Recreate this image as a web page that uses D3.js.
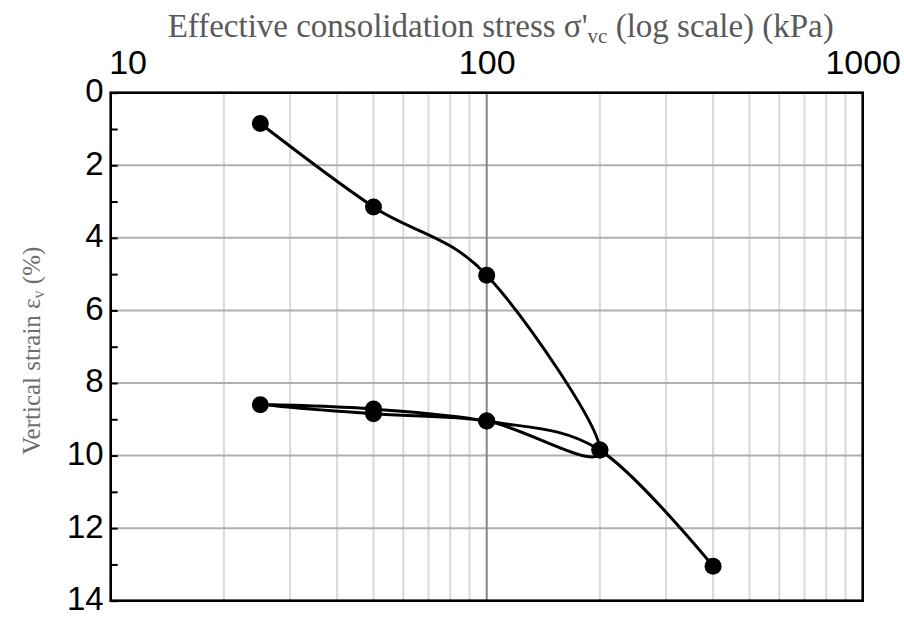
<!DOCTYPE html>
<html>
<head>
<meta charset="utf-8">
<script src="https://cdn.jsdelivr.net/npm/d3@7"></script>
<style>
  html, body { margin: 0; padding: 0; background: #fff; }
  svg { display: block; }
</style>
</head>
<body>
<svg id="chart" width="904" height="617"></svg>
<script>
// Oedometer test: loading, unloading and reloading path, in test order
const stress = [25, 50, 100, 200, 100, 50, 25, 50, 100, 200, 400];        // kPa
const strain = [0.85, 3.15, 5.03, 9.85, 9.05, 8.85, 8.6, 8.72, 9.05, 9.85, 13.05]; // %

const xTickValues = [10, 100, 1000];
const xTickLabels = ["10", "100", "1000"];
const yTickValues = [0, 2, 4, 6, 8, 10, 12, 14];

const svg = d3.select("#chart");
const W = 904, H = 617;
const margin = { left: 110.7, right: W - 862.7, top: 92.7, bottom: H - 600.7 };

const x = d3.scaleLog().domain([10, 1000]).range([margin.left, W - margin.right]);
const y = d3.scaleLinear().domain([0, 14]).range([margin.top, H - margin.bottom]);

const grid = svg.append("g");

// minor vertical grid (2..9 per decade)
const minorX = [];
for (let d = 10; d < 1000; d *= 10) {
  for (let k = 2; k <= 9; k++) minorX.push(d * k);
}
grid.selectAll("line.vminor").data(minorX).join("line")
  .attr("x1", d => x(d)).attr("x2", d => x(d))
  .attr("y1", y(0)).attr("y2", y(14))
  .attr("stroke", "#d9d9d9").attr("stroke-width", 2);

// horizontal major grid
grid.selectAll("line.hmajor").data(yTickValues.filter(v => v > 0 && v < 14)).join("line")
  .attr("x1", x(10)).attr("x2", x(1000))
  .attr("y1", d => y(d)).attr("y2", d => y(d))
  .attr("stroke", "#afafaf").attr("stroke-width", 2);

// major vertical grid at 100
grid.append("line")
  .attr("x1", x(100)).attr("x2", x(100))
  .attr("y1", y(0)).attr("y2", y(14))
  .attr("stroke", "#848484").attr("stroke-width", 2);

// frame
svg.append("rect")
  .attr("x", x(10)).attr("y", y(0))
  .attr("width", x(1000) - x(10)).attr("height", y(14) - y(0))
  .attr("fill", "none").attr("stroke", "#000").attr("stroke-width", 2.6);

// left axis: inward ticks at every unit, labels at even values
const yAxis = d3.axisLeft(y)
  .tickValues(d3.range(0, 15))
  .tickSizeInner(-7).tickSizeOuter(0)
  .tickFormat(d => (d % 2 === 0 ? d : ""));
const ya = svg.append("g").attr("transform", `translate(${x(10)},0)`).call(yAxis);
ya.select(".domain").remove();
ya.selectAll(".tick line").attr("stroke", "#000").attr("stroke-width", 2);
ya.selectAll(".tick text")
  .attr("x", -7)
  .attr("dy", "0.27em")
  .attr("font-family", "Liberation Sans, Arial, sans-serif")
  .attr("font-size", 33).attr("fill", "#000");

// top axis labels; the first one is kept clear of the left labels
const xAxis = d3.axisTop(x)
  .tickValues(xTickValues)
  .tickSize(0)
  .tickFormat((d, i) => xTickLabels[i]);
const xa = svg.append("g").attr("transform", `translate(0,${y(0) - 16})`).call(xAxis);
xa.select(".domain").remove();
xa.selectAll(".tick text")
  .attr("font-family", "Liberation Sans, Arial, sans-serif")
  .attr("font-size", 34).attr("fill", "#000")
  .attr("text-anchor", (d, i) => (i === 0 ? "start" : "middle"))
  .attr("dx", (d, i) => (i === 0 ? -2 : 0));

// axis titles
const title = svg.append("text")
  .attr("x", (x(10) + x(1000)) / 2 + 14).attr("y", 37)
  .attr("text-anchor", "middle")
  .attr("font-family", "Liberation Serif, Times New Roman, serif")
  .attr("font-size", 33).attr("fill", "#595959");
title.append("tspan").text("Effective consolidation stress σ'");
title.append("tspan").attr("font-size", 21).attr("dy", 6).text("vc");
title.append("tspan").attr("dy", -6).text(" (log scale) (kPa)");

const ylab = svg.append("text")
  .attr("transform", `translate(40,${(y(0) + y(14)) / 2 + 4}) rotate(-90)`)
  .attr("text-anchor", "middle")
  .attr("font-family", "Liberation Serif, Times New Roman, serif")
  .attr("font-size", 25).attr("fill", "#6e6e6e");
ylab.append("tspan").text("Vertical strain ε");
ylab.append("tspan").attr("font-size", 16).attr("dy", 4).text("v");
ylab.append("tspan").attr("dy", -4).text(" (%)");

// smoothed test path
const pts = stress.map((s, i) => [s, strain[i]]);
const line = d3.line()
  .x(d => x(d[0])).y(d => y(d[1]))
  .curve(d3.curveCardinal.tension(0));
svg.append("path")
  .datum(pts)
  .attr("d", line)
  .attr("fill", "none").attr("stroke", "#000").attr("stroke-width", 3);

svg.append("g").selectAll("circle").data(pts).join("circle")
  .attr("cx", d => x(d[0])).attr("cy", d => y(d[1]))
  .attr("r", 8.5).attr("fill", "#000");
</script>
</body>
</html>
